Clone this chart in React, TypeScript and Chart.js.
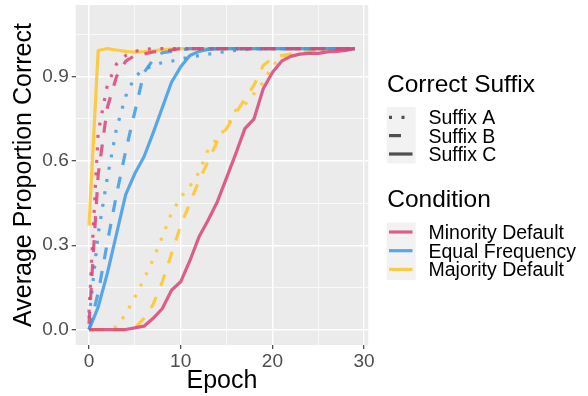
import { useEffect, useRef } from "react";
import { Chart, registerables } from "chart.js";

Chart.register(...registerables);

// ---------- data ----------
const epochs = [0, 1, 2, 3, 4, 5, 6, 7, 8, 9, 10, 11, 12, 13, 14, 15, 16, 17, 18, 19, 20, 21, 22, 23, 24, 25, 26, 27, 28, 29];

const minorityA = [0.06, 0.7, 0.87, 0.945, 0.975, 0.99, 0.997, 1, 1, 1, 1, 1, 1, 1, 1, 1, 1, 1, 1, 1, 1, 1, 1, 1, 1, 1, 1, 1, 1, 1];
const minorityB = [0.02, 0.55, 0.79, 0.9, 0.955, 0.975, 0.98, 0.988, 0.99, 0.995, 1, 1, 1, 1, 1, 1, 1, 1, 1, 1, 1, 1, 1, 1, 1, 1, 1, 1, 1, 1];
const minorityC = [0, 0, 0, 0, 0, 0.006, 0.012, 0.04, 0.075, 0.14, 0.17, 0.245, 0.33, 0.39, 0.455, 0.54, 0.625, 0.715, 0.75, 0.857, 0.915, 0.955, 0.972, 0.98, 0.983, 0.983, 0.988, 0.99, 0.993, 1];

const equalA = [0.04, 0.34, 0.54, 0.715, 0.83, 0.9, 0.925, 0.94, 0.95, 0.955, 0.963, 0.97, 0.975, 0.98, 0.985, 0.99, 0.993, 0.996, 1, 1, 1, 1, 1, 1, 1, 1, 1, 1, 1, 1];
const equalB = [0, 0.13, 0.31, 0.48, 0.635, 0.775, 0.915, 0.96, 0.985, 0.99, 0.995, 1, 1, 1, 1, 1, 1, 1, 1, 1, 1, 1, 1, 1, 1, 1, 1, 1, 1, 1];
const equalC = [0, 0.08, 0.2, 0.34, 0.48, 0.555, 0.615, 0.7, 0.79, 0.88, 0.935, 0.975, 0.99, 0.997, 1, 1, 1, 1, 1, 1, 1, 1, 1, 1, 1, 1, 1, 1, 1, 1];

const majorityA = [0, 0, 0, 0.01, 0.055, 0.115, 0.18, 0.25, 0.33, 0.415, 0.47, 0.51, 0.56, 0.64, 0.68, 0.72, 0.78, 0.8, 0.84, 0.88, 0.94, 0.965, 0.975, 0.98, 0.985, 0.99, 0.995, 1, 1, 1];
const majorityB = [0, 0, 0, 0, 0, 0.005, 0.04, 0.09, 0.17, 0.27, 0.37, 0.45, 0.53, 0.6, 0.67, 0.715, 0.77, 0.82, 0.87, 0.94, 0.965, 0.975, 0.98, 0.985, 0.99, 0.995, 1, 1, 1, 1];
const majorityC = [0.37, 0.993, 1, 0.995, 0.99, 0.987, 0.989, 0.992, 0.996, 0.998, 1, 1, 1, 1, 1, 1, 1, 1, 1, 1, 1, 1, 1, 1, 1, 1, 1, 1, 1, 1];

const xTickValues = [0, 5, 10, 15, 20, 25, 30];
const yTickValues = [0, 0.15, 0.3, 0.45, 0.6, 0.75, 0.9, 1.05];

const suffixLabels = ["Suffix A", "Suffix B", "Suffix C"];
const conditionLabels = ["Minority Default", "Equal Frequency", "Majority Default"];
const suffixTitle = "Correct Suffix";
const conditionTitle = "Condition";
const xTitle = "Epoch";
const yTitle = "Average Proportion Correct";

// ---------- styles ----------
const FONT = '"Liberation Sans", Arial, Helvetica, sans-serif';
const conditionColors = ["rgba(219,68,121,0.85)", "rgba(60,154,232,0.85)", "rgba(255,196,40,0.85)"];
const suffixDashes: number[][] = [[3, 9.5], [12, 12], []];
const LINE_W = 3.2;

const seriesTable = [
  { cond: 0, suf: 0, values: minorityA },
  { cond: 0, suf: 1, values: minorityB },
  { cond: 0, suf: 2, values: minorityC },
  { cond: 1, suf: 0, values: equalA },
  { cond: 1, suf: 1, values: equalB },
  { cond: 1, suf: 2, values: equalC },
  { cond: 2, suf: 0, values: majorityA },
  { cond: 2, suf: 1, values: majorityB },
  { cond: 2, suf: 2, values: majorityC },
];

const isMajorX = (v: number) => Math.abs(v % 10) < 1e-9;
const isMajorY = (v: number) => Math.abs(v / 0.3 - Math.round(v / 0.3)) < 1e-6;

const panelBg = {
  id: "panelBg",
  beforeDraw(chart: any) {
    const { ctx, chartArea } = chart;
    ctx.save();
    ctx.fillStyle = "#EBEBEB";
    ctx.fillRect(chartArea.left, chartArea.top, chartArea.right - chartArea.left, chartArea.bottom - chartArea.top);
    ctx.restore();
  },
};

const legendPlugin = {
  id: "ggLegend",
  afterDraw(chart: any) {
    const ctx: CanvasRenderingContext2D = chart.ctx;
    ctx.save();
    ctx.textBaseline = "alphabetic";
    ctx.textAlign = "left";
    const titleFont = `24.5px ${FONT}`;
    const labelFont = `19.5px ${FONT}`;
    const keyX0 = 386.7;
    const keyW = 29;
    const lineX0 = 389;
    const lineX1 = 412.5;
    const textX = 428.5;

    // Suffix legend
    ctx.fillStyle = "#000";
    ctx.font = titleFont;
    ctx.fillText(suffixTitle, 387, 91.7);
    const sufRows = [117.3, 135.6, 154];
    ctx.fillStyle = "#F2F2F2";
    ctx.fillRect(keyX0, 107, keyW, 56.5);
    suffixLabels.forEach((lab, i) => {
      const y = sufRows[i];
      ctx.strokeStyle = "rgba(51,51,51,0.85)";
      ctx.lineWidth = LINE_W;
      ctx.lineCap = "butt";
      ctx.setLineDash(suffixDashes[i]);
      ctx.beginPath();
      ctx.moveTo(lineX0, y);
      ctx.lineTo(lineX1, y);
      ctx.stroke();
      ctx.setLineDash([]);
      ctx.fillStyle = "#000";
      ctx.font = labelFont;
      ctx.fillText(lab, textX, y + 7);
    });

    // Condition legend
    ctx.fillStyle = "#000";
    ctx.font = titleFont;
    ctx.fillText(conditionTitle, 387.3, 206.7);
    const condRows = [232, 250.7, 269.4];
    ctx.fillStyle = "#F2F2F2";
    ctx.fillRect(keyX0, 222.5, keyW, 57.5);
    conditionLabels.forEach((lab, i) => {
      const y = condRows[i];
      ctx.strokeStyle = conditionColors[i];
      ctx.lineWidth = LINE_W;
      ctx.lineCap = "butt";
      ctx.beginPath();
      ctx.moveTo(lineX0, y);
      ctx.lineTo(lineX1, y);
      ctx.stroke();
      ctx.fillStyle = "#000";
      ctx.font = labelFont;
      ctx.fillText(lab, textX, y + 7);
    });
    ctx.restore();
  },
};

export default function App() {
  const ref = useRef<HTMLCanvasElement | null>(null);

  useEffect(() => {
    if (!ref.current) return;
    const datasets = seriesTable.map((s) => ({
      label: `${conditionLabels[s.cond]} - ${suffixLabels[s.suf]}`,
      data: epochs.map((e, i) => ({ x: e, y: s.values[i] })),
      borderColor: conditionColors[s.cond],
      backgroundColor: conditionColors[s.cond],
      borderWidth: LINE_W,
      borderDash: suffixDashes[s.suf],
      borderCapStyle: "butt" as const,
      borderJoinStyle: "round" as const,
      pointRadius: 0,
      tension: 0,
      fill: false,
    }));

    const tickFont = { family: FONT, size: 19 };
    const chart = new Chart(ref.current, {
      type: "line",
      data: { datasets },
      options: {
        animation: false,
        responsive: false,
        maintainAspectRatio: false,
        devicePixelRatio: 1,
        layout: { padding: { left: 0, top: 5, right: 219.8, bottom: 0 } },
        plugins: {
          legend: { display: false },
          tooltip: { enabled: false },
          title: { display: false },
        },
        scales: {
          x: {
            type: "linear",
            min: -1.45,
            max: 30.45,
            afterBuildTicks: (s: any) => {
              s.ticks = xTickValues.map((v) => ({ value: v }));
            },
            afterFit: (s: any) => {
              s.height = 51;
              s.paddingLeft = 0;
              s.paddingRight = 0;
              s.paddingTop = 0;
              s.paddingBottom = 0;
            },
            ticks: {
              autoSkip: false,
              maxRotation: 0,
              padding: 1,
              color: "#4D4D4D",
              font: tickFont,
              callback: (v: any) => (isMajorX(Number(v)) ? String(v) : ""),
            },
            grid: {
              color: "#FFFFFF",
              lineWidth: (c: any) => (isMajorX(c.tick.value) ? 1.4 : 0.7),
              drawTicks: true,
              tickLength: 4,
              tickColor: (c: any) => (isMajorX(c.tick.value) ? "#333333" : "rgba(0,0,0,0)"),
              tickWidth: (c: any) => (isMajorX(c.tick.value) ? 1.1 : 0),
            },
            border: { display: false },
            title: {
              display: true,
              text: xTitle,
              color: "#000",
              font: { family: FONT, size: 25 },
              padding: { top: 0, bottom: 0 },
            },
          },
          y: {
            type: "linear",
            min: -0.055,
            max: 1.155,
            afterBuildTicks: (s: any) => {
              s.ticks = yTickValues.map((v) => ({ value: v }));
            },
            afterFit: (s: any) => {
              s.width = 75.7;
              s.paddingLeft = 0;
              s.paddingRight = 0;
              s.paddingTop = 0;
              s.paddingBottom = 0;
            },
            ticks: {
              autoSkip: false,
              padding: 3,
              color: "#4D4D4D",
              font: tickFont,
              callback: (v: any) => (isMajorY(Number(v)) ? Number(v).toFixed(1) : ""),
            },
            grid: {
              color: "#FFFFFF",
              lineWidth: (c: any) => (isMajorY(c.tick.value) ? 1.4 : 0.7),
              drawTicks: true,
              tickLength: 4,
              tickColor: (c: any) => (isMajorY(c.tick.value) ? "#333333" : "rgba(0,0,0,0)"),
              tickWidth: (c: any) => (isMajorY(c.tick.value) ? 1.1 : 0),
            },
            border: { display: false },
            title: {
              display: true,
              text: yTitle,
              color: "#000",
              font: { family: FONT, size: 25 },
              padding: { top: 9.6, bottom: 0 },
            },
          },
        },
      },
      plugins: [panelBg, legendPlugin],
    });
    return () => chart.destroy();
  }, []);

  return (
    <div style={{ position: "fixed", left: 0, top: 0, width: 588, height: 396, background: "#fff" }}>
      <canvas ref={ref} width={588} height={396} style={{ display: "block", width: 588, height: 396 }} />
    </div>
  );
}
